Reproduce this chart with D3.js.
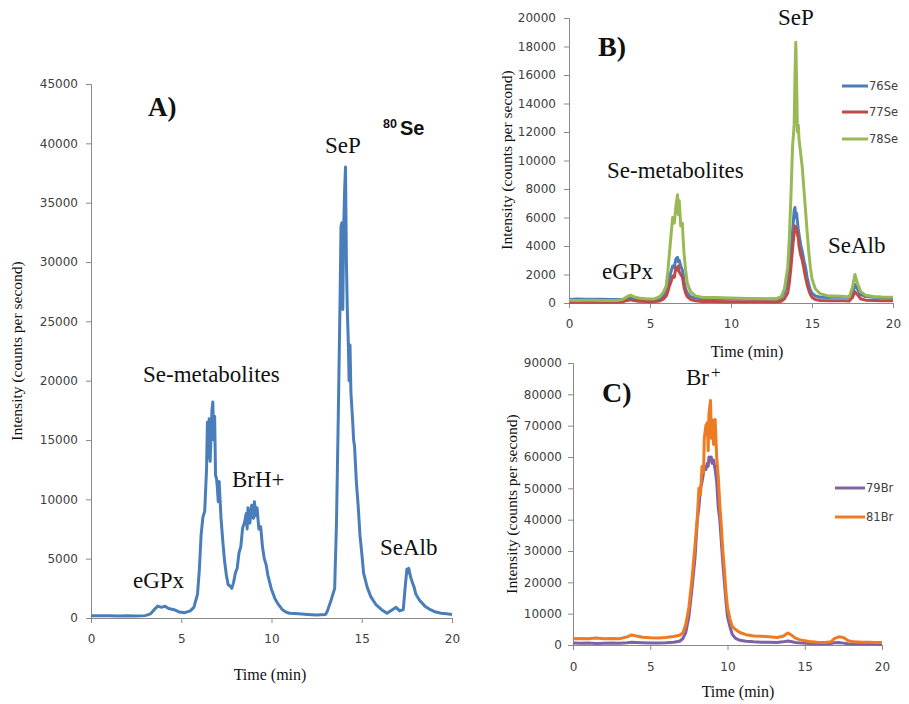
<!DOCTYPE html>
<html>
<head>
<meta charset="utf-8">
<script src="https://cdn.jsdelivr.net/npm/d3@7"></script>
<style>
  html, body { margin: 0; padding: 0; background: #fff; }
  svg { display: block; }
  .tick text { font-family: "DejaVu Sans", sans-serif; font-size: 12px; fill: #404040; }
  .axis path, .axis line { stroke: #8a8a8a; }
  .serif { font-family: "Liberation Serif", "Times New Roman", serif; fill: #111; }
</style>
</head>
<body>
<svg id="chart" width="909" height="704"></svg>
<script>
// ---------------- DATA ----------------
const xTickValues = [0, 5, 10, 15, 20];
const yTicksA = [0, 5000, 10000, 15000, 20000, 25000, 30000, 35000, 40000, 45000];
const yTicksB = [0, 2000, 4000, 6000, 8000, 10000, 12000, 14000, 16000, 18000, 20000];
const yTicksC = [0, 10000, 20000, 30000, 40000, 50000, 60000, 70000, 80000, 90000];

// Panel A: 80Se
const timeA = [0,0.5,1,1.5,2,2.5,3,3.3,3.5,3.7,3.9,4.1,4.3,4.6,4.9,5.2,5.5,5.7,5.9,6,6.1,6.2,6.3,6.4,6.45,6.5,6.55,6.6,6.7,6.75,6.8,6.85,6.9,6.95,7,7.05,7.1,7.2,7.3,7.4,7.5,7.6,7.7,7.8,7.9,8,8.1,8.2,8.3,8.4,8.5,8.6,8.65,8.7,8.8,8.9,9,9.05,9.15,9.2,9.3,9.4,9.5,9.6,9.7,9.8,9.9,10,10.2,10.4,10.6,10.8,11,11.5,12,12.5,13,13.1,13.3,13.4,13.5,13.6,13.7,13.8,13.85,13.9,13.95,14,14.05,14.1,14.15,14.2,14.25,14.3,14.35,14.4,14.5,14.55,14.6,14.7,14.8,14.9,15,15.1,15.3,15.5,15.8,16.1,16.4,16.7,16.9,17.1,17.3,17.4,17.5,17.55,17.6,17.7,17.8,17.9,18,18.2,18.5,18.8,19.1,19.4,19.7,20];
const se80 = [200,180,200,170,190,160,200,350,700,1000,900,1000,800,700,500,450,600,900,2000,4000,7000,8500,9000,12500,16500,13500,16800,13200,17500,18200,15000,17000,12000,11800,11000,9800,11500,8500,6500,4800,3600,2800,2700,2500,3000,3800,4200,5500,6000,7600,8000,8800,7500,9300,8000,9500,8400,9800,8600,9300,7500,7700,6000,5000,4500,3600,3000,2400,1600,1100,700,500,400,350,300,250,300,600,1500,2000,2500,8000,17000,27000,33000,33300,26000,33000,36000,38000,30000,26000,23500,20000,23000,19000,16500,15000,14500,11500,9500,7000,5500,3800,2600,1800,1100,700,400,700,900,600,700,2500,4100,3800,4200,3500,3000,2600,2000,1500,1000,700,500,400,350,300];

// Panel B: 76Se, 77Se, 78Se
const timeB = [0,0.5,1,1.5,2,2.5,3,3.3,3.6,3.8,4,4.3,4.7,5,5.3,5.6,5.8,6,6.1,6.2,6.3,6.4,6.5,6.6,6.7,6.75,6.8,6.9,7,7.05,7.1,7.2,7.3,7.5,7.8,8.2,9,10,11,12,12.8,13.1,13.3,13.5,13.6,13.7,13.8,13.9,13.95,14,14.05,14.1,14.15,14.2,14.3,14.4,14.5,14.6,14.7,14.8,14.9,15,15.2,15.5,16,16.5,17,17.3,17.5,17.65,17.8,18,18.3,18.8,19.3,20];
const se76 = [250,280,260,270,260,250,240,250,320,350,300,280,260,250,260,300,450,800,1300,1800,2200,2600,2500,3100,3200,2900,3000,2600,2300,2000,1500,1000,700,450,350,300,320,300,280,270,260,350,700,1500,2500,3800,5000,6500,6700,6000,6300,5700,5200,4800,4100,3600,3000,2500,1800,1300,900,700,500,400,380,420,400,380,700,1300,1000,600,450,400,380,350];
const se77 = [60,50,70,60,50,60,60,80,180,220,180,120,100,90,100,140,250,500,800,1200,1500,1900,1800,2500,2300,2600,2200,2000,1800,1500,1100,700,450,250,150,100,100,90,80,80,70,120,300,700,1400,2500,3800,5000,5400,5300,5200,4800,4600,4000,3400,3000,2400,1800,1300,900,600,400,250,180,150,150,150,140,400,800,600,300,200,180,160,150];
const se78 = [200,180,200,190,180,170,180,250,450,550,450,350,300,280,300,450,700,1200,2200,3500,4800,6000,5600,6800,7600,6200,7200,5400,5600,4400,3500,2300,1400,800,500,400,380,350,320,300,300,450,1000,2500,4500,7500,11000,12500,16000,18300,15500,12000,12500,11500,10500,9500,8000,6500,5000,3600,2500,1700,1000,650,500,500,450,420,1100,2000,1400,800,550,450,420,400];

// Panel C: 79Br, 81Br
const timeC = [0,0.5,1,1.5,2,2.5,3,3.5,3.8,4.1,4.5,5,5.5,6,6.5,6.9,7.1,7.3,7.5,7.7,7.9,8.05,8.15,8.25,8.35,8.45,8.5,8.6,8.7,8.75,8.8,8.9,8.95,9,9.1,9.2,9.3,9.4,9.5,9.6,9.7,9.8,9.9,10,10.15,10.3,10.5,10.8,11.2,11.7,12.2,12.7,13.2,13.6,13.9,14.1,14.4,14.8,15.3,15.8,16.3,16.7,16.9,17.2,17.5,17.8,18.2,18.7,19.2,19.6,20];
const br79 = [600,550,600,500,550,600,550,700,900,800,700,600,650,700,900,1200,2000,4000,9000,18000,28000,40000,44000,50000,52000,55000,57000,56000,58000,57000,60000,59000,60000,58000,59000,56000,52000,44000,40000,33000,26000,20000,14000,9000,6000,3500,2200,1500,1200,1000,900,900,800,1000,1300,1100,800,600,500,400,400,500,700,800,600,400,300,300,300,250,250];
const br81 = [2000,2100,2000,2200,2000,2100,2000,2600,3200,2900,2500,2300,2200,2400,2700,3100,3800,6500,12000,21000,32000,41000,50000,48000,57000,55000,66000,70000,71000,62000,74000,78000,66000,72000,64000,72000,60000,54000,45000,38000,30000,24000,17000,12000,8500,6000,5000,4000,3300,2900,2800,2600,2400,2800,3800,3300,2200,1500,1100,900,800,1000,2000,2600,2400,1400,1000,900,900,800,800];

const legendB = ["76Se", "77Se", "78Se"];
const legendC = ["79Br", "81Br"];
const colorsB = ["#4A7EBB", "#BE4B48", "#98B954"];
const colorsC = ["#7E62A3", "#F07A22"];
const colorA = "#4A7EBB";

// ---------------- DRAW ----------------
const svg = d3.select("#chart");

function panel(cfg) {
  const x = d3.scaleLinear().domain([0, 20]).range([cfg.x0, cfg.x1]);
  const y = d3.scaleLinear().domain([0, cfg.ymax]).range([cfg.y0, cfg.y1]);
  const g = svg.append("g");

  g.append("g").attr("class", "axis")
    .attr("transform", `translate(0,${cfg.y0})`)
    .call(d3.axisBottom(x).tickValues(xTickValues).tickSizeOuter(0).tickSize(5).tickPadding(cfg.xpad))
    .call(s => s.select(".domain").attr("stroke", "#8a8a8a"));

  g.append("g").attr("class", "axis")
    .attr("transform", `translate(${cfg.x0},0)`)
    .call(d3.axisLeft(y).tickValues(cfg.yticks).tickSizeOuter(0).tickSize(5).tickPadding(cfg.ypad).tickFormat(d3.format("d")))
    .call(s => s.select(".domain").attr("stroke", "#8a8a8a"));

  const line = d3.line().x(d => x(d[0])).y(d => y(d[1]));
  cfg.series.forEach((vals, i) => {
    const pts = cfg.time.map((t, k) => [t, vals[k]]);
    g.append("path").datum(pts)
      .attr("d", line)
      .attr("fill", "none")
      .attr("stroke", cfg.colors[i])
      .attr("stroke-width", 3)
      .attr("stroke-linejoin", "round");
  });

  g.append("text").attr("class", "serif")
    .attr("x", cfg.xtitle[0]).attr("y", cfg.xtitle[1])
    .attr("text-anchor", "middle").attr("font-size", 16)
    .text("Time (min)");
  g.append("text").attr("class", "serif")
    .attr("transform", `translate(${cfg.ytitle[0]},${cfg.ytitle[1]}) rotate(-90)`)
    .attr("text-anchor", "middle").attr("font-size", 15.5)
    .attr("dominant-baseline", "middle")
    .text("Intensity (counts per second)");

  return { x, y, g };
}

panel({ x0: 91, x1: 452, y0: 618, y1: 84, ymax: 45000, yticks: yTicksA,
  time: timeA, series: [se80], colors: [colorA], xpad: 11, ypad: 8,
  xtitle: [270, 680], ytitle: [18, 351] });

panel({ x0: 569, x1: 893, y0: 303, y1: 18, ymax: 20000, yticks: yTicksB,
  time: timeB, series: [se76, se77, se78], colors: colorsB, xpad: 11, ypad: 8,
  xtitle: [747, 357], ytitle: [508, 160] });

panel({ x0: 573, x1: 882, y0: 645, y1: 363, ymax: 90000, yticks: yTicksC,
  time: timeC, series: [br79, br81], colors: colorsC, xpad: 12, ypad: 6,
  xtitle: [738, 697], ytitle: [513, 504] });

function legend(labels, colors, lx0, lx1, ys) {
  labels.forEach((lab, i) => {
    svg.append("line").attr("x1", lx0).attr("x2", lx1).attr("y1", ys[i]).attr("y2", ys[i])
      .attr("stroke", colors[i]).attr("stroke-width", 3);
    svg.append("text").attr("x", lx1 + 1).attr("y", ys[i])
      .attr("dominant-baseline", "central")
      .attr("font-family", "DejaVu Sans, sans-serif").attr("font-size", 11.5).attr("fill", "#404040")
      .text(lab);
  });
}
legend(legendB, colorsB, 842, 868, [86, 112, 139]);
legend(legendC, colorsC, 835, 865, [488, 517]);

function label(txt, x, y, size, bold) {
  svg.append("text").attr("class", "serif").attr("x", x).attr("y", y)
    .attr("font-size", size).attr("font-weight", bold ? "bold" : "normal").text(txt);
}
label("A)", 148, 116, 27, true);
label("B)", 598, 56, 28, true);
label("C)", 602, 402, 28, true);

label("SeP", 325, 153, 23);
label("Se-metabolites", 143, 382, 23);
label("BrH+", 232, 487, 23);
label("SeAlb", 380, 555, 23);
label("eGPx", 133, 588, 23);

label("SeP", 778, 25, 23);
label("Se-metabolites", 607, 178, 23);
label("eGPx", 602, 279, 23);
label("SeAlb", 828, 253, 23);

const br = svg.append("text").attr("class", "serif").attr("x", 686).attr("y", 385).attr("font-size", 23);
br.append("tspan").text("Br");
br.append("tspan").attr("x", 711).attr("y", 378).attr("font-size", 17).text("+");

const se = svg.append("text").attr("font-family", "Liberation Sans, Arial, sans-serif").attr("font-weight", "bold").attr("fill", "#111");
se.append("tspan").attr("x", 383).attr("y", 128).attr("font-size", 12.5).text("80");
se.append("tspan").attr("x", 400).attr("y", 135).attr("font-size", 20).text("Se");
</script>
</body>
</html>
